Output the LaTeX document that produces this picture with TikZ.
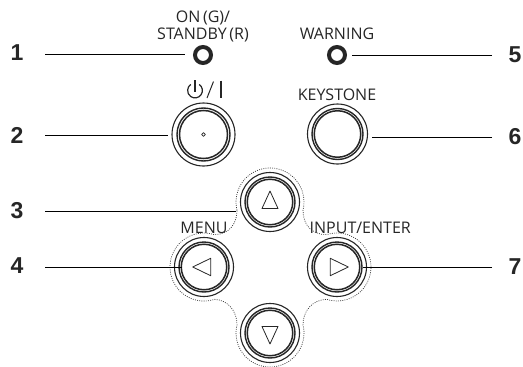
\documentclass[tikz,border=0pt]{standalone}
\usepackage{fontspec}
\usetikzlibrary{calc}
\setmainfont{Open Sans}
\newfontfamily\numfont{Liberation Sans}
\begin{document}
\begin{tikzpicture}[x=1pt,y=-1pt,
  btn/.style={circle,draw=black!85,line width=1.1pt,minimum size=59pt,inner sep=0pt,outer sep=0pt},
  ringo/.style={circle,draw=black!85,line width=1.4pt,minimum size=50pt,inner sep=0pt},
  ringi/.style={circle,draw=black!85,line width=1.5pt,minimum size=45.5pt,inner sep=0pt},
  led/.style={circle,draw=black!85,line width=4pt,minimum size=16pt,inner sep=0pt,outer sep=0pt},
  num/.style={font=\numfont\bfseries\fontsize{23}{23}\selectfont,inner sep=0pt,text=black!85},
  lab/.style={font=\fontsize{16}{18}\selectfont,inner sep=0pt,text=black!85,align=center},
  lead/.style={draw=black,line width=1pt},
  sym/.style={draw=black!85,line width=.8pt,line join=round},
  dot/.style={draw=black!80,line width=.7pt,dash pattern=on .9pt off 1.3pt}]
\useasboundingbox (0,0) rectangle (523,367);
% buttons
\node[btn,minimum size=63pt] (power) at (203.5,134.5) {};
\node[btn,minimum size=60pt] (key) at (337.5,134) {};
\node[btn] (up) at (270,202) {};
\node[btn] (left) at (204,267) {};
\node[btn] (right) at (337,267) {};
\node[btn] (down) at (270,333) {};
\foreach \b in {up,left,right,down}{
  \node[ringo] at (\b) {};
  \node[ringi] at (\b) {};
}
\node[ringo,minimum size=53pt] at (power) {};
\node[ringi,minimum size=48pt] at (power) {};
\node[ringo,minimum size=51pt] at (key) {};
\node[ringi,minimum size=46.5pt] at (key) {};
% LEDs
\node[led] (led1) at (203,55) {};
\node[led] (led5) at (337,55) {};
% dotted outline
\draw[dot] ($(up)+(166:34)$) arc[start angle=166,end angle=374,radius=34]
  .. controls +(0,15) and (312,234.5) .. ($(right)+(252:34)$)
  arc[start angle=252,end angle=468,radius=34]
  .. controls (312,300) and (303,311) .. ($(down)+(-14:34)$)
  arc[start angle=-14,end angle=194,radius=34]
  .. controls (237,311) and (228,300) .. ($(left)+(72:34)$)
  arc[start angle=72,end angle=288,radius=34]
  .. controls (228,234.5) and (237,225) .. ($(up)+(166:34)$);
% button symbols
\draw[sym] ($(up)+(-8,6.5)$) -- ($(up)+(8,6.5)$) -- ($(up)+(0,-11)$) -- cycle;
\draw[sym] ($(down)+(-8,-6.5)$) -- ($(down)+(8,-6.5)$) -- ($(down)+(0,11)$) -- cycle;
\draw[sym] ($(left)+(-11.3,0)$) -- ($(left)+(6.7,-8.7)$) -- ($(left)+(6.7,8.7)$) -- cycle;
\draw[sym] ($(right)+(11.3,0)$) -- ($(right)+(-6.7,-8.7)$) -- ($(right)+(-6.7,8.7)$) -- cycle;
\draw[sym] (power) circle[radius=1.9];
% power symbol above the button
\coordinate (pw) at (195,90.5);
\draw[draw=black!85,line width=1.2pt] ($(pw)+(-55:7.4)$) arc[start angle=-55,end angle=235,radius=7.4];
\draw[draw=black!85,line width=1.2pt] ($(pw)+(0,-10.5)$) -- ($(pw)+(0,1)$);
\draw[draw=black!85,line width=1pt] (207,98) -- (213.5,81.5);
\draw[draw=black!85,line width=2.6pt] (221,80.5) -- (221,98);
% labels
\node[lab] (lon) at (203,18) {ON\,(G)/};
\node[lab] (lst) at (203,35) {STANDBY\,(R)};
\node[lab] (lwa) at (337,34) {WARNING};
\node[lab] (lke) at (337,95) {KEYSTONE};
\node[lab] (lme) at (204,228) {MENU};
\node[lab,anchor=west] (lin) at (309.5,228) {INPUT/ENTER};
% numbers
\node[num] (n1) at (17,53) {1};
\node[num] (n2) at (17,135) {2};
\node[num] (n3) at (17,211) {3};
\node[num] (n4) at (17,266) {4};
\node[num] (n5) at (515,55) {5};
\node[num] (n6) at (515,137) {6};
\node[num] (n7) at (515,267) {7};
% leader lines
\coordinate (a1) at (45,54); \coordinate (b1) at (185,54);
\coordinate (a2) at (45,135); \coordinate (b2) at (168,135);
\coordinate (a3) at (45,211); \coordinate (b3) at (236,211);
\coordinate (a4) at (45,267); \coordinate (b4) at (182,267);
\coordinate (a5) at (492,55); \coordinate (b5) at (352,55);
\coordinate (a6) at (492,137); \coordinate (b6) at (372,137);
\coordinate (a7) at (492,267); \coordinate (b7) at (363,267);
\draw[lead] (a1) -- (b1);
\draw[lead] (a2) -- (b2);
\draw[lead] (a3) -- (b3);
\draw[lead] (a4) -- (b4);
\draw[lead] (a5) -- (b5);
\draw[lead] (a6) -- (b6);
\draw[lead] (a7) -- (b7);
\end{tikzpicture}
\end{document}
